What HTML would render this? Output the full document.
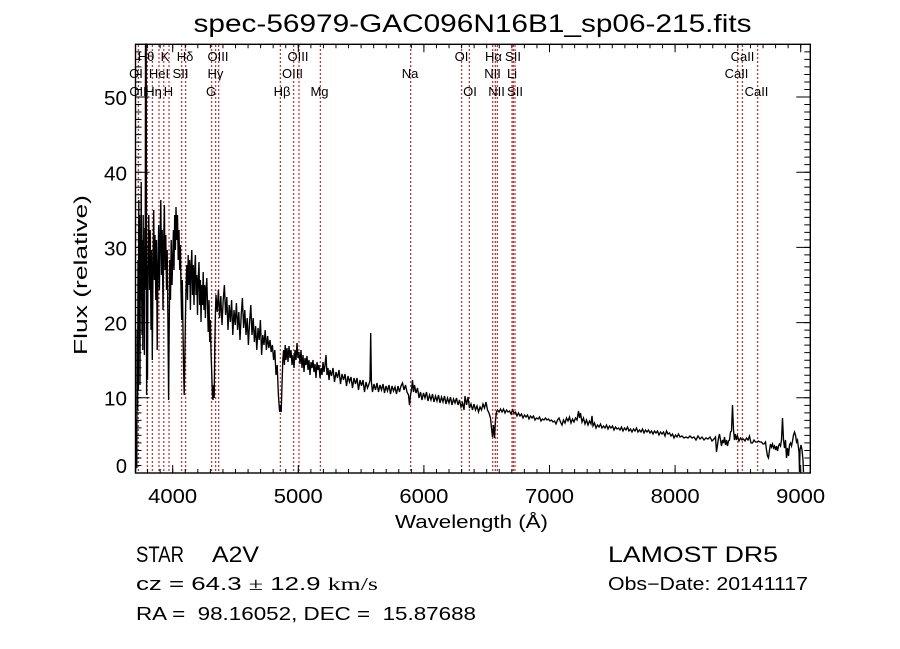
<!DOCTYPE html>
<html><head><meta charset="utf-8"><style>
html,body{margin:0;padding:0;background:#fff;}
svg{display:block;}
text{font-family:"Liberation Sans",sans-serif;fill:#000;}
</style></head><body>
<svg width="900" height="649" viewBox="0 0 900 649" xmlns="http://www.w3.org/2000/svg">
<rect width="900" height="649" fill="#fff"/>
<!-- title -->
<text x="472.5" y="32" font-size="25" text-anchor="middle" textLength="558" lengthAdjust="spacingAndGlyphs">spec-56979-GAC096N16B1_sp06-215.fits</text>

<!-- red dotted lines -->
<g stroke="#c00000" stroke-width="1" stroke-dasharray="2 2" fill="none">
<line x1="138.3" y1="45" x2="138.3" y2="473"/>
<line x1="147.3" y1="45" x2="147.3" y2="473"/>
<line x1="152.3" y1="45" x2="152.3" y2="473"/>
<line x1="159" y1="45" x2="159" y2="473"/>
<line x1="163.8" y1="45" x2="163.8" y2="473"/>
<line x1="169" y1="45" x2="169" y2="473"/>
<line x1="181.7" y1="45" x2="181.7" y2="473"/>
<line x1="185.7" y1="45" x2="185.7" y2="473"/>
<line x1="211.7" y1="45" x2="211.7" y2="473"/>
<line x1="215.7" y1="45" x2="215.7" y2="473"/>
<line x1="218.7" y1="45" x2="218.7" y2="473"/>
<line x1="280.3" y1="45" x2="280.3" y2="473"/>
<line x1="293.7" y1="45" x2="293.7" y2="473"/>
<line x1="299" y1="45" x2="299" y2="473"/>
<line x1="320.3" y1="45" x2="320.3" y2="473"/>
<line x1="410.7" y1="45" x2="410.7" y2="473"/>
<line x1="461.7" y1="45" x2="461.7" y2="473"/>
<line x1="469.3" y1="45" x2="469.3" y2="473"/>
<line x1="492.7" y1="45" x2="492.7" y2="473"/>
<line x1="495.3" y1="45" x2="495.3" y2="473"/>
<line x1="497.3" y1="45" x2="497.3" y2="473"/>
<line x1="512" y1="45" x2="512" y2="473"/>
<line x1="513.3" y1="45" x2="513.3" y2="473"/>
<line x1="515" y1="45" x2="515" y2="473"/>
<line x1="737.7" y1="45" x2="737.7" y2="473"/>
<line x1="742.3" y1="45" x2="742.3" y2="473"/>
<line x1="757.7" y1="45" x2="757.7" y2="473"/>
</g>

<!-- line labels -->
<g font-size="13" text-anchor="middle">
<text x="146" y="61">Hθ</text>
<text x="165" y="61">K</text>
<text x="185" y="61">Hδ</text>
<text x="218" y="61">OIII</text>
<text x="298" y="61">OIII</text>
<text x="461.5" y="61">OI</text>
<text x="493.5" y="61">Hα</text>
<text x="513" y="61">SII</text>
<text x="742.5" y="61">CaII</text>

<text x="136" y="78">OI</text>
<text x="159" y="78">HeI</text>
<text x="180.5" y="78">SII</text>
<text x="215.5" y="78">Hγ</text>
<text x="292.5" y="78">OIII</text>
<text x="410" y="78">Na</text>
<text x="492.5" y="78">NII</text>
<text x="512" y="78">Li</text>
<text x="736.5" y="78">CaII</text>

<text x="138" y="96">OII</text>
<text x="153.5" y="96">Hη</text>
<text x="168.5" y="96">H</text>
<text x="211" y="96">G</text>
<text x="282" y="96">Hβ</text>
<text x="319.5" y="96">Mg</text>
<text x="470" y="96">OI</text>
<text x="496.5" y="96">NII</text>
<text x="515" y="96">SII</text>
<text x="756.5" y="96">CaII</text>
</g>

<!-- spectrum -->
<polyline fill="none" stroke="#000" stroke-width="1.35" stroke-linejoin="miter" points="
135.5,472 136,462 136.4,420 136.8,468 137.2,330 137.6,410 138,260 138.4,390 138.8,200 139.2,340 139.6,215 140,385 140.4,235 140.8,300 141.2,182 141.6,275 142,335 142.4,240 142.8,350 143.2,215 143.6,305 144,250 144.4,355 144.8,228 145.2,290 145.5,44 146.2,44 146.6,395 147,265 147.5,380
148,260 148.8,215 149.5,290 150.2,230 151,330 151.6,250 152.3,360 153,270 153.7,210 154.4,280 155,235 155.8,300 156.5,240 157.2,350 158,265 158.7,225 159.4,290 160,245 160.8,200 161.5,275 162.2,230 163,310 163.7,240 164.4,205 165,270 165.8,235 166.5,290 167.2,250 168,330 168.6,400 169.2,330 169.8,260 170.5,300 171.2,240 172,285 172.7,260
173.4,230 174,270 174.7,215 175.4,250 176,207 176.8,240 177.5,215 178.2,260 179,230 179.7,270 180.4,245 181,290 181.7,320 182.3,280 183,330 183.6,370 184.2,395 184.8,360 185.4,320 186,290
186.8,265 187.5,300 188.2,255 189,285 189.7,260 190.4,310 191,270 191.8,250 192.5,295 193.2,265 194,305 194.7,270 195.4,255 196,295 196.8,275 197.5,315 198.2,280 199,262 199.7,305 200.4,280 201,322 201.8,285 202.5,305 203.2,272 204,310 204.7,285 205.4,318 206,290 206.8,278 207.5,305 208.2,332 209,300 209.7,342 210.4,320 211,352 211.7,372 212.4,395 213,400 213.6,385 214.2,398 214.8,345 215.5,310
216,295 217.2,312 218.4,290 219.6,318 220.8,296 222,325 223.2,300 224.4,285 225.6,315 226.8,297 228,330 229.2,305 230.4,322 231.6,300 232.8,335 234,310 235.2,325 236.4,303 237.6,330 238.8,312 240,340 241.2,315 242.4,298 243.6,328 244.8,310 246,335 247.2,318 248.4,345 249.6,322 250.8,305 252,335 253.2,318 254.4,342 255.6,326 256.8,350 258,328 259.2,340 260.4,320 261.6,355 262.8,335 264,345 265.2,330 266.4,350 267.6,336 268.8,348 270,340 271.2,352 272.4,345 273.6,360 274.8,350 276,375 277.2,365 278.4,395 279.6,412 280.4,405 281.2,412 282,385 282.8,360 283.6,350 284.4,365 285.2,345 286,360 287,348 288,362 289,346 290,358 291,350 292,365 293,355 294,368 295,350 296,360 297,343 298,358 299,352 300,364 301,350 302,368 303,355 304,372 305,358 306,365 307,356 308,370 309,360 310,375 311,362 312,368 313,360 314,372 315,364 316,378 317,362 318,370 319,365 320,378 321,368 322,375 323,362 324,372 325,365 326,355 327,375 328,368 329,380 330,370 331.5,376 333,368 334.5,382 336,372 337.5,378 339,370 340.5,384 342,374 343.5,380 345,374 346.5,386 348,376 349.5,382 351,377 352.5,388 354,378 355.5,384 357,378 358.5,390 360,380 361.5,386 363,380 364.5,392 366,382 367.5,388 369,384 370,380 370.7,333 371.4,382 372.5,392 374,384 375.5,390 377,383 378.5,392 380,385 381.5,390 383,384 384.5,393 386,386 387.5,391 389,385 390.5,394 392,386 393.5,391 395,387 396.5,394 398,386 399.5,392 401,386 402.5,383 404,390 405.5,385 407,392 408.5,395 409.5,405 410.5,395 411.5,390 412.5,380 413.5,392 414.5,385 416,393 417.5,388 419,398 420.5,392 422,400 423.5,393 425,398 426.5,392 428,401 429.5,395 431,400 432.5,394 434,402 435.5,396 437,401 438.5,395 440,403 441.5,397 443,402 444.5,396 446,404 447.5,398 449,403 450.5,397 452,405 453.5,399 455,403 456.5,398 458,405 459.5,400 461,407 462.5,403 464,410 465,396 466.5,405 468,397 469.5,408 471,404 472.5,410 474,404 475.5,410 477,406 478.5,412 480,407 481.5,410 483,404 484.5,408 486,402 487.5,410 489,413 490.5,418 491.5,428 492.5,437 493.5,425 494.5,438 495.5,420 496.5,412 497.5,410 499,412 500.5,409 502,412 503.5,409 505,413 506.5,410 508,412 509.5,411 511,414 512.5,410 514,413 515.5,412 517,416 518.5,413 520,416 521.5,414 523,418 524.5,415 526,417 527.5,415 529,419 530.5,416 532,418 533.5,416 535,420 536.5,418 538,419 539.5,417 541,421 542.5,419 544,420 545.5,418 547,420 548.5,419 550,421 551.5,420 553,422 554.5,421 556,424 557.5,420 559,418 560.5,422 562,425 563.5,420 565,423 566.5,418 568,421 569.5,417 571,423 572.5,419 574,422 575.5,418 577,420 578.5,411 579.5,418 580.5,413 582,422 583.5,418 585,424 586.5,420 588,425 589.5,421 591,424 592,416 593,426 594.5,423 596,428 597.5,425 599,427 600.5,424 602,428 603.5,426 605,428 606.5,425 608,429 609.5,426 611,428 612.5,426 614,430 615.5,427 617,429 618.5,428 620,430 621.5,427 623,431 624.5,428 626,430 627.5,427 629,431 630.5,429 632,432 633.5,429 635,431 636.5,428 638,432 639.5,430 641,432 642.5,429 644,433 645.5,430 647,432 648.5,430 650,433 651.5,431 653,434 654.5,431 656,433 657.5,431 659,435 660.5,432 662,434 663.5,432 665,436 666.5,431 668,434 669.5,433 671,436 672.5,434 674,438 675.5,435 677,437 678.5,434 680,437 682,436 684,438 686,437 688,438 690,436 692,438 694,437 696,440 698,436 700,439 702,437 704,440 706,438 708,439 710,437 712,441 714,439 715.5,437 716.5,452 717.5,445 718.5,438 719.5,434 720.5,440 721.5,446 722.5,440 723.5,443 724.5,437 725.5,445 726.5,440 727.5,446 728.5,441 729.5,440 730.5,432 731.5,431 732.5,405 733.5,430 734.5,440 735.5,434 736.5,440 737.5,436 739,441 740.5,438 742,440 743.5,439 745,441 746.5,438 748,440 749.5,436 751,443 752.5,443 754,440 755.5,442 757,442 758.5,441 760,442 761.5,442 763,444 764,444 765.5,442 766.5,450 767.5,456 768.5,458 769.5,450 770.5,444 771.5,447 772.5,444 773.5,448 774.5,446 775.5,450 776.5,446 777.5,451 778.5,446 779.5,444 780.5,446 781.5,440 782.5,418 783.5,440 784.5,448 785.5,440 786.5,458 787.5,448 788.5,456 789.5,445 790.5,443 791.5,446 792.5,441 793.5,435 794.5,432 795.5,435 796.5,442 797.5,440 798.5,448 799,452 799.5,472 800,450 801,445 802,450 803,460 803.5,472"/>

<!-- axes box -->
<rect x="135.5" y="44.3" width="674.8" height="428.7" fill="none" stroke="#000" stroke-width="1.4"/>

<!-- ticks -->
<g stroke="#000" fill="none">
<line x1="147.08" y1="471" x2="810" y2="471" stroke-width="4" stroke-dasharray="1 11.56"/>
<line x1="172.2" y1="469" x2="810" y2="469" stroke-width="8" stroke-dasharray="1 124.6"/>
<line x1="147.08" y1="46.3" x2="810" y2="46.3" stroke-width="4" stroke-dasharray="1 11.56"/>
<line x1="172.2" y1="48.3" x2="810" y2="48.3" stroke-width="8" stroke-dasharray="1 124.6"/>
<line x1="138.5" y1="473.5" x2="138.5" y2="44" stroke-width="6" stroke-dasharray="1 6.52"/>
<line x1="142.5" y1="473.5" x2="142.5" y2="44" stroke-width="14" stroke-dasharray="1 74.2"/>
<line x1="807.3" y1="473.5" x2="807.3" y2="44" stroke-width="6" stroke-dasharray="1 6.52"/>
<line x1="803.3" y1="473.5" x2="803.3" y2="44" stroke-width="14" stroke-dasharray="1 74.2"/>
</g>

<!-- x tick labels -->
<g font-size="20" text-anchor="middle">
<text x="172.7" y="503" textLength="49" lengthAdjust="spacingAndGlyphs">4000</text>
<text x="298.3" y="503" textLength="49" lengthAdjust="spacingAndGlyphs">5000</text>
<text x="423.9" y="503" textLength="49" lengthAdjust="spacingAndGlyphs">6000</text>
<text x="549.5" y="503" textLength="49" lengthAdjust="spacingAndGlyphs">7000</text>
<text x="675.1" y="503" textLength="49" lengthAdjust="spacingAndGlyphs">8000</text>
<text x="800.7" y="503" textLength="49" lengthAdjust="spacingAndGlyphs">9000</text>
</g>
<!-- y tick labels -->
<g font-size="20" text-anchor="end">
<text x="127" y="473">0</text>
<text x="127" y="405.5" textLength="23" lengthAdjust="spacingAndGlyphs">10</text>
<text x="127" y="330.5" textLength="23" lengthAdjust="spacingAndGlyphs">20</text>
<text x="127" y="255.5" textLength="23" lengthAdjust="spacingAndGlyphs">30</text>
<text x="127" y="180.5" textLength="23" lengthAdjust="spacingAndGlyphs">40</text>
<text x="127" y="105" textLength="23" lengthAdjust="spacingAndGlyphs">50</text>
</g>

<!-- axis titles -->
<text x="471.5" y="528" font-size="18" text-anchor="middle" textLength="153" lengthAdjust="spacingAndGlyphs">Wavelength (Å)</text>
<text transform="translate(87,275) rotate(-90)" x="0" y="0" font-size="18" text-anchor="middle" textLength="160" lengthAdjust="spacingAndGlyphs">Flux (relative)</text>

<!-- info text -->
<text x="136" y="562" font-size="22" textLength="48" lengthAdjust="spacingAndGlyphs">STAR</text>
<text x="212" y="562" font-size="22" textLength="47" lengthAdjust="spacingAndGlyphs">A2V</text>
<text x="608" y="562" font-size="22" textLength="170" lengthAdjust="spacingAndGlyphs">LAMOST DR5</text>
<text x="136" y="590" font-size="18" textLength="242" lengthAdjust="spacingAndGlyphs">cz = 64.3 <tspan font-family="Liberation Serif, serif">±</tspan> 12.9 <tspan font-family="Liberation Serif, serif">km/s</tspan></text>
<text x="608" y="590" font-size="18" textLength="200" lengthAdjust="spacingAndGlyphs">Obs−Date: 20141117</text>
<text x="136" y="620" font-size="18" textLength="340" lengthAdjust="spacingAndGlyphs" xml:space="preserve" style="white-space:pre">RA =  98.16052, DEC =  15.87688</text>
</svg>
</body></html>
